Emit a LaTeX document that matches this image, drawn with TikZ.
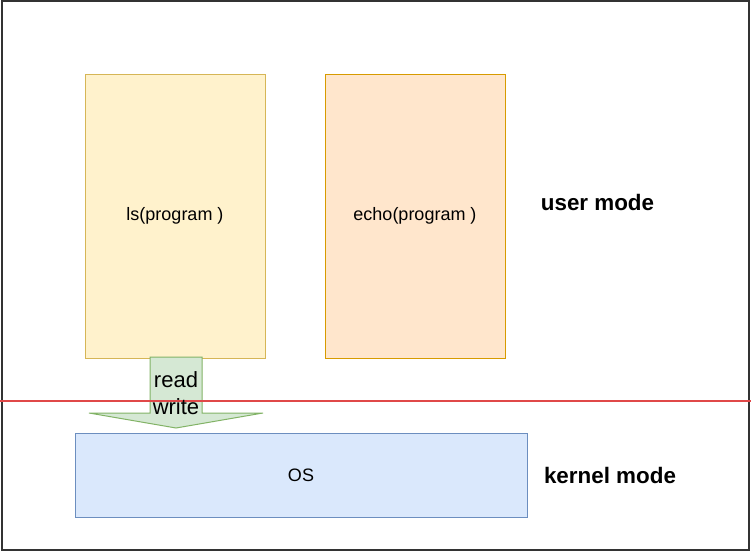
\documentclass[tikz,border=0pt]{standalone}
\usepackage{fontspec}
\setmainfont{Liberation Sans}
\usepackage{xcolor}
\usepackage{tikz}

\definecolor{lsfill}{HTML}{FFF2CC}
\definecolor{lsline}{HTML}{D6B656}
\definecolor{echofill}{HTML}{FFE6CC}
\definecolor{echoline}{HTML}{D79B00}
\definecolor{osfill}{HTML}{DAE8FC}
\definecolor{osline}{HTML}{6C8EBF}
\definecolor{rwfill}{HTML}{D5E8D4}
\definecolor{rwline}{HTML}{82B366}
\definecolor{modeline}{HTML}{E04848}

\tikzset{
  prog/.style={draw, line width=1pt, minimum width=180pt, minimum height=284pt,
    font=\fontsize{18}{21}\selectfont},
  modelabel/.style={font=\fontsize{22.4}{26}\selectfont\bfseries},
}

\begin{document}
\begin{tikzpicture}[x=1pt, y=-1pt]
    \useasboundingbox (0,0) rectangle (753,552);
    \draw[line width=1.4pt, black!80] (2,1) rectangle (749,550);

    \node[prog, fill=lsfill, draw=lsline] (ls) at (175,216) {ls(program )};
    \node[prog, fill=echofill, draw=echoline] (echo) at (415,216) {echo(program )};
    \node[draw=osline, fill=osfill, line width=1pt, minimum width=452pt, minimum height=84pt,
      font=\fontsize{18}{21}\selectfont] (os) at (301,475) {OS};

    % read/write arrow
    \fill[rwfill, draw=rwline, line width=1pt] (150,357) -- (202,357) -- (202,413) -- (263,413)
      -- (176,428) -- (89,413) -- (150,413) -- cycle;

    % boundary between modes
    \draw[modeline, line width=1.4pt] (0,401) -- (751,401);

    \node[font=\fontsize{22}{27}\selectfont, align=center, inner sep=0pt] (rw) at (176,393.5) {read\\write};

    \node[modelabel] (user) at (597.5,202) {user mode};
    \node[modelabel] (kernel) at (610,475) {kernel mode};
\end{tikzpicture}
\end{document}
